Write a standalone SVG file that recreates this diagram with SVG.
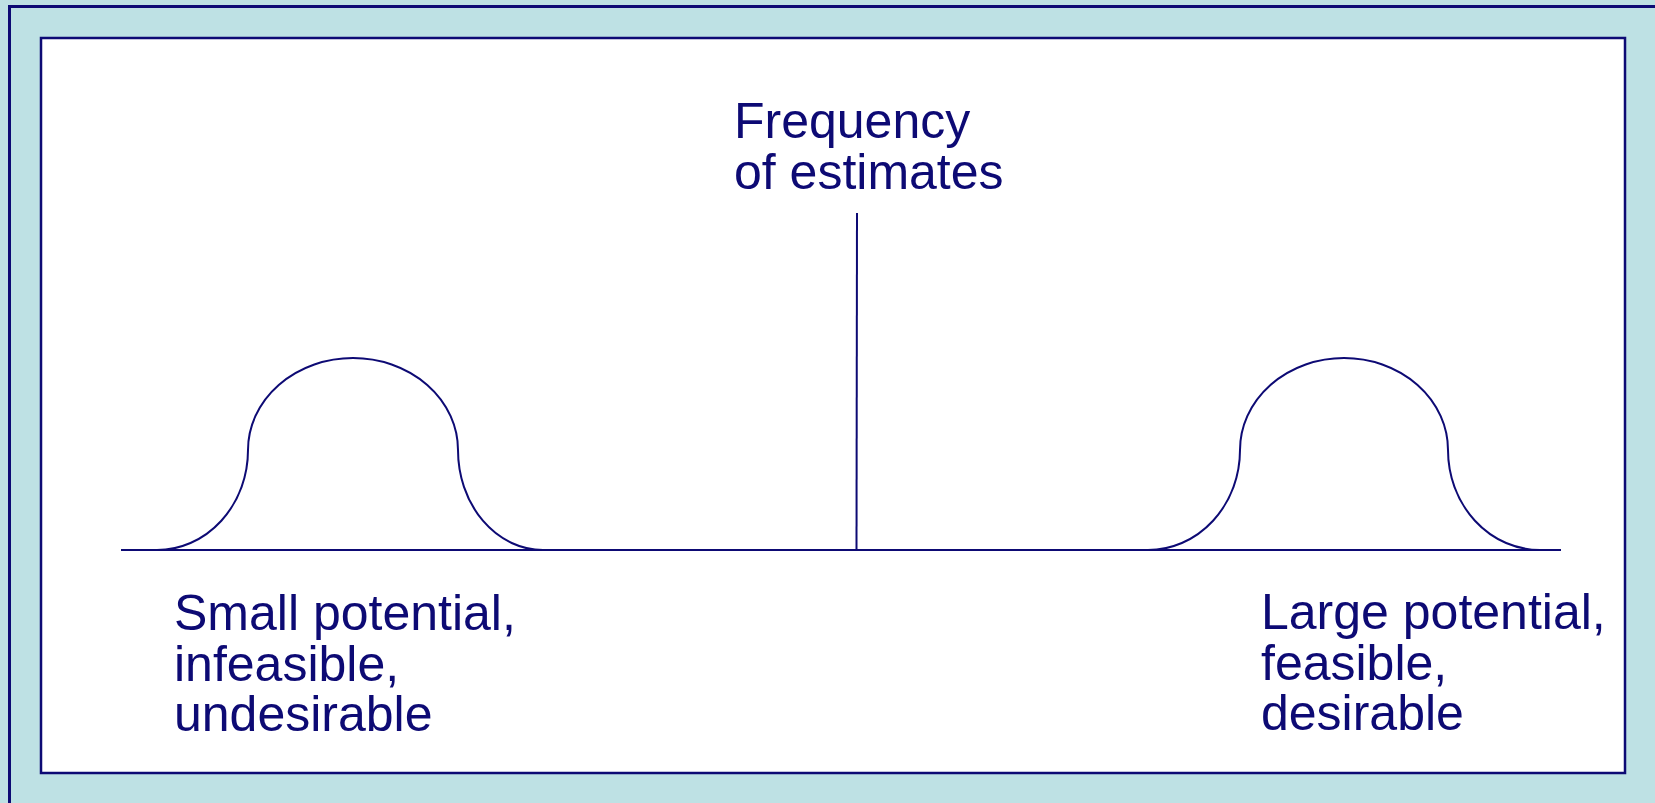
<svg xmlns="http://www.w3.org/2000/svg" width="1655" height="803" viewBox="0 0 1655 803">
<style>
.ln{fill:none;stroke:#0d0a74;stroke-width:2}
.lbl{font-family:"Liberation Sans",Arial,sans-serif;font-size:50px;fill:#0d0a74}
</style>
<rect x="0" y="0" width="1655" height="803" fill="#bee1e4"/>
<rect id="outer-frame" x="9.5" y="6.5" width="1700" height="850" fill="#bee1e4" stroke="#0d0a74" stroke-width="3"/>
<rect id="inner-panel" x="41" y="38" width="1584" height="735" fill="#ffffff" stroke="#0d0a74" stroke-width="2.5"/>
<g id="connectors">
<line class="ln" x1="121" y1="550" x2="1561" y2="550" stroke-width="2.4"/>
<line class="ln" x1="857" y1="213" x2="856.5" y2="550"/>
</g>
<g id="left-curve">
<path class="ln" d="M157,550 A91,100 0 0 0 248,450 A105,92 0 0 1 458,450 A85,100 0 0 0 543,550"/>
</g>
<g id="right-curve">
<path class="ln" d="M1148,550 A92,100 0 0 0 1240,450 A104,92 0 0 1 1448,450 A92,100 0 0 0 1540,550"/>
</g>
<g id="y-label">
<text class="lbl" x="734" y="138">Frequency</text>
<text class="lbl" x="734" y="188.5">of estimates</text>
</g>
<g id="left-label">
<text class="lbl" x="174" y="630">Small potential,</text>
<text class="lbl" x="174" y="680.5">infeasible,</text>
<text class="lbl" x="174" y="731">undesirable</text>
</g>
<g id="right-label">
<text class="lbl" x="1261" y="629">Large potential,</text>
<text class="lbl" x="1261" y="679.5">feasible,</text>
<text class="lbl" x="1261" y="730">desirable</text>
</g>
</svg>
